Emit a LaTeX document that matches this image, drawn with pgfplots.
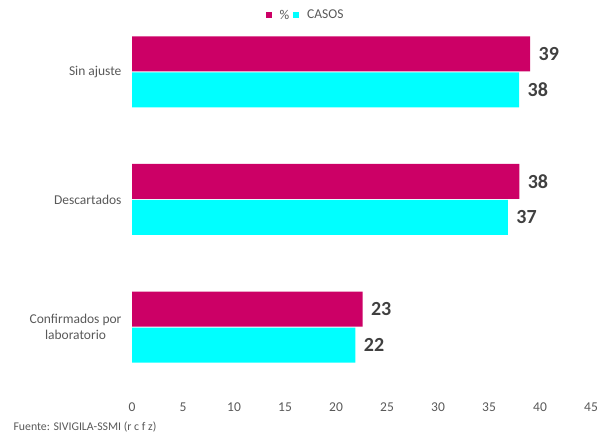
\documentclass[border=0pt]{standalone}
\usepackage{fontspec}
\setmainfont{Carlito}
\usepackage{pgfplots}
\pgfplotsset{compat=1.18}
\definecolor{mag}{RGB}{204,0,102}
\definecolor{cya}{RGB}{0,255,255}
\definecolor{txt}{RGB}{89,89,89}
\definecolor{lab}{RGB}{64,64,64}
\begin{document}
\begin{tikzpicture}
\useasboundingbox (0,0) rectangle (605bp,440bp);
\begin{axis}[
  at={(132bp,49bp)}, anchor=south west,
  scale only axis, width=459bp, height=383bp,
  xbar, xmin=0, xmax=45, xtick distance=5,
  ymin=-0.5, ymax=2.5,
  ytick={0,1,2},
  yticklabels={{Confirmados por\\laboratorio},{Descartados},{Sin ajuste}},
  axis line style={draw=none},
  major tick length=0pt,
  /pgf/number format/assume math mode=true,
  tick label style={font=\fontsize{13.5bp}{16bp}\selectfont, text=txt},
  yticklabel style={align=center, xshift=-7bp},
  xticklabel style={yshift=-8bp},
  bar width=35bp,
  point meta=explicit symbolic,
  nodes near coords,
  nodes near coords style={anchor=west, font=\fontsize{20bp}{22bp}\selectfont\bfseries, text=lab, xshift=5bp},
  legend style={draw=none, at={(0.378,0.981)}, anchor=center, legend columns=2,
    font=\fontsize{13.5bp}{16bp}\selectfont, text=txt,
    /tikz/every even column/.append style={column sep=2bp},
    /tikz/every odd column/.append style={column sep=6bp}},
  legend image code/.code={\fill[#1] (0bp,-3bp) rectangle (6bp,3bp);},
]
\addplot[fill=mag, draw=none, bar shift=18bp] coordinates {(22.6,0) [23] (37.97,1) [38] (39.03,2) [39]};
\addlegendentry{\%}
\addplot[fill=cya, draw=none, bar shift=-18bp] coordinates {(21.9,0) [22] (36.86,1) [37] (37.95,2) [38]};
\addlegendentry{CASOS}
\end{axis}
\node[anchor=west, font=\fontsize{11.8bp}{13bp}\selectfont, text=txt] at (10bp,13bp) {Fuente: SIVIGILA-SSMI (r c f z)};
\end{tikzpicture}
\end{document}
